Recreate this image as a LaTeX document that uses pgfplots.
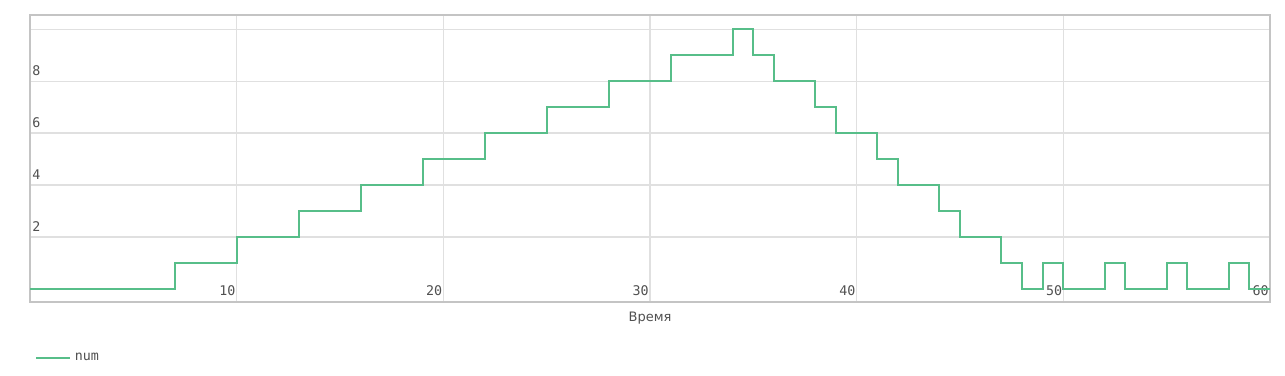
\documentclass[border=0pt]{standalone}
\usepackage{fontspec}
\setmainfont{DejaVu Sans}
\newfontfamily\monofont{DejaVu Sans Mono}
\usepackage{pgfplots}
\pgfplotsset{compat=1.18}
\definecolor{linegreen}{RGB}{87,190,137}
\definecolor{bordergray}{RGB}{196,196,196}
\definecolor{gridgray}{RGB}{224,224,224}
\definecolor{textgray}{RGB}{80,80,80}
\begin{document}
\begin{tikzpicture}
\useasboundingbox (0,0) rectangle (963.75pt,-281.25pt);
\begin{axis}[
  at={(22.5pt,-11.25pt)}, anchor=north west,
  scale only axis,
  width=930pt, height=215.25pt,
  xmin=0, xmax=60, ymin=-0.5, ymax=10.54,
  xtick={10,20,...,60},
  ytick={2,4,...,10},
  yticklabels={2,4,6,8,{}},
  major tick length=0pt,
  grid=major,
  major grid style={color=gridgray, line width=0.8pt},
  axis line style={color=bordergray, line width=1.5pt},
  /pgf/number format/assume math mode=true,
  tick label style={font=\fontsize{10}{12}\selectfont\monofont, text=textgray},
  xticklabel style={anchor=south east, inner sep=0pt, yshift=4.5pt, xshift=-0.75pt},
  yticklabel style={anchor=south west, inner sep=0pt, xshift=1.5pt, yshift=3.75pt},
  xlabel={Время},
  xlabel style={at={(axis description cs:0.5,0)}, anchor=center, yshift=-12pt, font=\fontsize{9.75}{12}\selectfont, text=textgray},
  legend style={at={(axis description cs:0.004,-0.1951)}, anchor=west, draw=none, fill=none, inner sep=0pt, nodes={inner sep=0pt, font=\fontsize{10}{12}\selectfont\monofont, text=textgray}},
  legend image code/.code={\draw[#1] (0pt,0pt) -- (25.5pt,0pt);},
]
\addplot[const plot mark left, color=linegreen, line width=1.5pt, mark=none] coordinates {
(0,0) (7,1) (10,2) (13,3) (16,4) (19,5) (22,6) (25,7) (28,8) (31,9) (34,10)
(35,9) (36,8) (38,7) (39,6) (41,5) (42,4) (44,3) (45,2) (47,1) (48,0) (49,1)
(50,0) (52,1) (53,0) (55,1) (56,0) (58,1) (59,0) (60,0)
};
\addlegendentry{\hspace*{2.7pt}num}
\end{axis}
\end{tikzpicture}
\end{document}
